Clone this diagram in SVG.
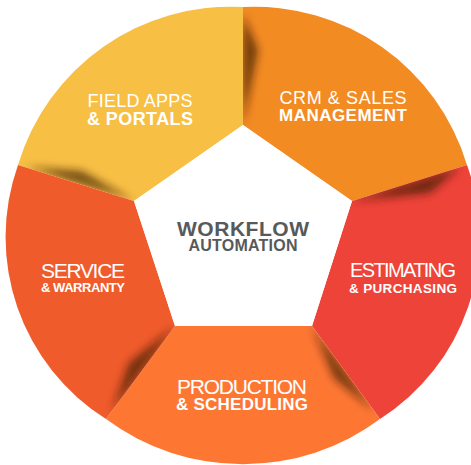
<svg xmlns="http://www.w3.org/2000/svg" width="471" height="465" viewBox="0 0 471 465">
  <style>
    .lbl { fill: #ffffff; font-family: "Liberation Sans", Arial, sans-serif; text-anchor: middle; }
    .reg { font-weight: 400; }
    .bold { font-weight: 700; }
    .ctr { fill: #58595b; font-family: "Liberation Sans", Arial, sans-serif; font-weight: 700; text-anchor: middle; }
    .shadow { fill: #3a1a04; fill-opacity: 0.7; filter: url(#soft); }
  </style>
  <defs>
    <filter id="soft" x="-100%" y="-100%" width="300%" height="300%">
      <feGaussianBlur stdDeviation="4.5"/>
    </filter>
    <path id="segYellow" d="M134,201 L243,125 L243,7 A222,222 0 0 0 18,165 Z"/>
    <path id="segCrm" d="M243,125 L243,7 A222,222 0 0 1 467,165 L352,201 Z"/>
    <path id="segRed" d="M352,201 L467,165 A215,215 0 0 1 380,419 L312,326 Z"/>
    <path id="segProd" d="M312,326 L380,419 A230,230 0 0 1 106,419 L175,326 Z"/>
    <path id="segServ" d="M175,326 L106,419 A215,215 0 0 1 18,165 L134,201 Z"/>
    <clipPath id="clipYellow"><use href="#segYellow"/></clipPath>
    <clipPath id="clipCrm"><use href="#segCrm"/></clipPath>
    <clipPath id="clipRed"><use href="#segRed"/></clipPath>
    <clipPath id="clipProd"><use href="#segProd"/></clipPath>
    <clipPath id="clipServ"><use href="#segServ"/></clipPath>
  </defs>

  <rect width="471" height="465" fill="#ffffff"/>

  <g id="field-apps">
    <use href="#segYellow" fill="#f8bf45"/>
    <g clip-path="url(#clipYellow)">
      <path class="shadow" d="M134,201 L26,167 L82,171 Z"/>
    </g>
    <text class="lbl reg" x="140" y="107" font-size="18" textLength="105">FIELD APPS</text>
    <text class="lbl bold" x="140" y="125" font-size="18" textLength="106">&amp; PORTALS</text>
  </g>

  <g id="crm-sales">
    <use href="#segCrm" fill="#f38b23"/>
    <g clip-path="url(#clipCrm)">
      <path class="shadow" d="M243,125 L243,14 L258,50 Z"/>
    </g>
    <text class="lbl reg" x="343" y="104" font-size="18" textLength="127">CRM &amp; SALES</text>
    <text class="lbl bold" x="343" y="121" font-size="17" textLength="128">MANAGEMENT</text>
  </g>

  <g id="estimating">
    <use href="#segRed" fill="#ee4338"/>
    <g clip-path="url(#clipRed)">
      <path class="shadow" d="M352,201 L460,167 L430,193 Z"/>
    </g>
    <text class="lbl reg" x="403" y="277" font-size="20" textLength="106">ESTIMATING</text>
    <text class="lbl bold" x="403" y="293" font-size="13.5" textLength="108">&amp; PURCHASING</text>
  </g>

  <g id="production">
    <use href="#segProd" fill="#fd7733"/>
    <g clip-path="url(#clipProd)">
      <path class="shadow" d="M312,326 L374,411 L334,378 Z"/>
    </g>
    <text class="lbl reg" x="242" y="394" font-size="21" textLength="130">PRODUCTION</text>
    <text class="lbl bold" x="242" y="410" font-size="17" textLength="132">&amp; SCHEDULING</text>
  </g>

  <g id="service">
    <use href="#segServ" fill="#f05b2b"/>
    <g clip-path="url(#clipServ)">
      <path class="shadow" d="M175,326 L112,411 L129,363 Z"/>
    </g>
    <text class="lbl reg" x="83" y="278" font-size="21" textLength="84">SERVICE</text>
    <text class="lbl bold" x="83" y="292" font-size="13" textLength="84">&amp; WARRANTY</text>
  </g>

  <g id="workflow-automation">
    <polygon points="243,125 352,201 312,326 175,326 134,201" fill="#ffffff"/>
    <text class="ctr" x="243" y="236" font-size="21" textLength="132">WORKFLOW</text>
    <text class="ctr" x="243" y="251" font-size="16" textLength="109">AUTOMATION</text>
  </g>

  <g id="connectors"/>
</svg>
